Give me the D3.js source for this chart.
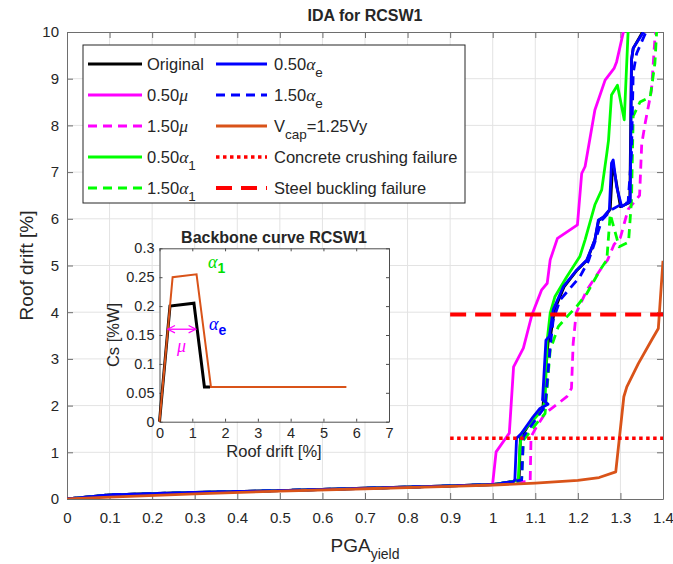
<!DOCTYPE html>
<html>
<head>
<meta charset="utf-8">
<script src="https://cdn.jsdelivr.net/npm/d3@7"></script>
<style>
  body { margin: 0; background: #fff; }
  text { font-family: "Liberation Sans", Arial, sans-serif; fill: #262626; }
</style>
</head>
<body>
<svg id="chart" width="673" height="564"></svg>
<script>
// tick values / labels
const xTickVals = [0, 0.1, 0.2, 0.3, 0.4, 0.5, 0.6, 0.7, 0.8, 0.9, 1, 1.1, 1.2, 1.3, 1.4];
const xTickLabels = ["0", "0.1", "0.2", "0.3", "0.4", "0.5", "0.6", "0.7", "0.8", "0.9", "1", "1.1", "1.2", "1.3", "1.4"];
const yTickVals = [0, 1, 2, 3, 4, 5, 6, 7, 8, 9, 10];
const insetXTicks = [0, 1, 2, 3, 4, 5, 6, 7];
const insetXLabels = ["0", "1", "2", "3", "4", "5", "6", "7"];
const insetYTicks = [0, 0.05, 0.1, 0.15, 0.2, 0.25, 0.3];
const insetYLabels = ["0", "0.05", "0.1", "0.15", "0.2", "0.25", "0.3"];

// common low-intensity part of the IDA curves [PGA, drift]
const baseRun = [[0, 0], [0.1, 0.09], [0.3, 0.14], [0.5, 0.18], [0.7, 0.23], [0.9, 0.28], [1.0, 0.31]];

const original = baseRun.concat([[1.045, 0.37], [1.062, 0.42], [1.065, 1.3], [1.095, 1.74], [1.118, 1.98], [1.13, 3.35],
  [1.136, 3.5], [1.145, 4.05], [1.168, 4.55], [1.198, 4.9], [1.222, 5.12], [1.24, 5.55], [1.249, 5.97], [1.262, 6.04],
  [1.276, 6.2], [1.282, 7.2], [1.29, 6.8], [1.3, 6.26], [1.322, 6.35], [1.326, 9.4], [1.33, 9.65], [1.352, 10]]);

const mu050 = baseRun.concat([[1.0, 0.34], [1.008, 1.01], [1.039, 1.41], [1.049, 2.83], [1.072, 3.23], [1.092, 3.94],
  [1.115, 4.48], [1.128, 4.62], [1.135, 5.12], [1.152, 5.58], [1.199, 5.87], [1.209, 6.97], [1.217, 7.12], [1.24, 8.33],
  [1.264, 8.97], [1.285, 9.22], [1.291, 9.36], [1.307, 10]]);

const mu150 = baseRun.concat([[1.04, 0.35], [1.088, 0.38], [1.09, 1.33], [1.103, 1.55], [1.123, 1.83], [1.174, 2.19],
  [1.185, 2.37], [1.189, 3.33], [1.196, 3.98], [1.221, 4.47], [1.252, 4.9], [1.27, 5.12], [1.285, 5.45], [1.3, 5.6],
  [1.318, 6.2], [1.345, 6.5], [1.35, 7.6], [1.358, 8.04], [1.373, 8.76], [1.381, 9.86], [1.383, 10]]);

const a1050 = baseRun.concat([[1.05, 0.38], [1.06, 0.41], [1.064, 1.12], [1.068, 1.41], [1.095, 1.69], [1.117, 1.91],
  [1.123, 2.12], [1.128, 3.4], [1.135, 3.98], [1.146, 4.33], [1.174, 4.76], [1.205, 5.2], [1.217, 5.55], [1.24, 6.3],
  [1.256, 6.62], [1.268, 7.4], [1.272, 7.68], [1.279, 8.65], [1.293, 8.86], [1.309, 8.12], [1.318, 10]]);

const a1150 = baseRun.concat([[1.06, 0.38], [1.068, 0.42], [1.072, 1.26], [1.103, 1.62], [1.123, 1.83], [1.135, 3.19],
  [1.154, 3.69], [1.174, 3.9], [1.197, 4.12], [1.221, 4.4], [1.252, 4.9], [1.268, 5.12], [1.276, 6.1], [1.297, 5.4],
  [1.319, 5.5], [1.326, 6.4], [1.33, 8.2], [1.346, 8.5], [1.37, 8.61], [1.381, 9.33], [1.385, 10]]);

const ae050 = baseRun.concat([[1.048, 0.37], [1.052, 0.41], [1.056, 1.3], [1.068, 1.41], [1.095, 1.76], [1.111, 1.94],
  [1.13, 2.03], [1.117, 2.12], [1.125, 3.4], [1.133, 3.48], [1.142, 4.05], [1.166, 4.55], [1.197, 4.9], [1.221, 5.12],
  [1.24, 5.55], [1.248, 5.97], [1.26, 6.04], [1.274, 6.19], [1.279, 7.19], [1.283, 7.26], [1.291, 6.69], [1.303, 6.26],
  [1.323, 6.37], [1.326, 9.4], [1.33, 9.65], [1.354, 10]]);

const ae150 = baseRun.concat([[1.05, 0.38], [1.068, 0.41], [1.072, 1.33], [1.1, 1.69], [1.123, 1.98], [1.135, 3.26],
  [1.142, 3.83], [1.158, 4.26], [1.205, 4.76], [1.225, 5.1], [1.24, 5.5], [1.256, 5.97], [1.28, 6.2], [1.3, 6.3],
  [1.318, 6.35], [1.326, 7.4], [1.33, 9.12], [1.338, 9.54], [1.36, 10]]);

const vcap = [[0, 0], [0.1, 0.04], [0.3, 0.11], [0.5, 0.17], [0.7, 0.22], [0.9, 0.27], [1.0, 0.3], [1.1, 0.34],
  [1.2, 0.4], [1.25, 0.46], [1.289, 0.58], [1.308, 2.19], [1.315, 2.4], [1.342, 2.9], [1.373, 3.4], [1.389, 3.65], [1.4, 5.1]];

const crushing = [[0.9, 1.3], [1.4, 1.3]];
const buckling = [[0.9, 3.95], [1.4, 3.95]];

// backbone curves [drift %, Cs]
const backboneOrig = [[0, 0], [0.32, 0.2], [1.05, 0.205], [1.37, 0.06], [1.54, 0.06]];
const backboneCap = [[0, 0], [0.4, 0.25], [1.13, 0.255], [1.57, 0.06], [5.7, 0.06]];
const muArrow = [0.25, 1.11, 0.16];

const series = [
  { name: "Original", data: original, color: "#000000", dash: null },
  { name: "0.50mu", data: mu050, color: "#ff00ff", dash: null },
  { name: "1.50mu", data: mu150, color: "#ff00ff", dash: "9,6" },
  { name: "0.50a1", data: a1050, color: "#00ff00", dash: null },
  { name: "1.50a1", data: a1150, color: "#00ff00", dash: "9,6" },
  { name: "0.50ae", data: ae050, color: "#0000ff", dash: null },
  { name: "1.50ae", data: ae150, color: "#0000ff", dash: "9,6" },
  { name: "Vcap", data: vcap, color: "#D95319", dash: null }
];

const svg = d3.select("#chart");
const pL = 67, pR = 663, pT = 32, pB = 499;

const x = d3.scaleLinear().domain([0, 1.4]).range([pL, pR]);
const y = d3.scaleLinear().domain([0, 10]).range([pB, pT]);

// grid
svg.append("g").selectAll("line").data(xTickVals.slice(1, -1)).enter().append("line")
  .attr("x1", d => x(d)).attr("x2", d => x(d)).attr("y1", pT).attr("y2", pB)
  .attr("stroke", "#e3e3e3").attr("stroke-width", 1);
svg.append("g").selectAll("line").data(yTickVals.slice(1, -1)).enter().append("line")
  .attr("y1", d => y(d)).attr("y2", d => y(d)).attr("x1", pL).attr("x2", pR)
  .attr("stroke", "#e3e3e3").attr("stroke-width", 1);

// axes, ticks inside like matlab
const xAxis = svg.append("g").attr("transform", `translate(0,${pB})`)
  .call(d3.axisBottom(x).tickValues(xTickVals).tickFormat((d, i) => xTickLabels[i]).tickSizeInner(-6).tickSizeOuter(0).tickPadding(13));
const xTop = svg.append("g").attr("transform", `translate(0,${pT})`)
  .call(d3.axisTop(x).tickValues(xTickVals).tickFormat("").tickSizeInner(-6).tickSizeOuter(0));
const yAxis = svg.append("g").attr("transform", `translate(${pL},0)`)
  .call(d3.axisLeft(y).tickValues(yTickVals).tickSizeInner(-6).tickSizeOuter(0).tickPadding(8));
const yRight = svg.append("g").attr("transform", `translate(${pR},0)`)
  .call(d3.axisRight(y).tickValues(yTickVals).tickFormat("").tickSizeInner(-6).tickSizeOuter(0));
[xAxis, xTop, yAxis, yRight].forEach(g => {
  g.select(".domain").attr("stroke", "#6e6e6e");
  g.selectAll(".tick line").attr("stroke", "#6e6e6e");
  g.selectAll("text").attr("font-size", "15px").attr("fill", "#262626")
    .style("font-family", '"Liberation Sans", Arial, sans-serif');
});

// clip
svg.append("clipPath").attr("id", "plotclip").append("rect")
  .attr("x", pL).attr("y", pT).attr("width", pR - pL).attr("height", pB - pT);

const line = d3.line().x(d => x(d[0])).y(d => y(d[1]));
const curves = svg.append("g").attr("clip-path", "url(#plotclip)");

series.forEach(s => {
  curves.append("path")
    .attr("d", line(s.data))
    .attr("fill", "none")
    .attr("stroke", s.color)
    .attr("stroke-width", 2.8)
    .attr("stroke-linejoin", "round")
    .attr("stroke-dasharray", s.dash);
});

curves.append("path").attr("d", line(crushing)).attr("fill", "none")
  .attr("stroke", "#ff0000").attr("stroke-width", 3.5).attr("stroke-dasharray", "3.5,3.5");
curves.append("path").attr("d", line(buckling)).attr("fill", "none")
  .attr("stroke", "#ff0000").attr("stroke-width", 4).attr("stroke-dasharray", "16,9");

// titles and labels
svg.append("text").attr("x", (pL + pR) / 2).attr("y", 21).attr("text-anchor", "middle")
  .attr("font-size", "16px").attr("font-weight", "bold").text("IDA for RCSW1");

const xl = svg.append("text").attr("x", (pL + pR) / 2).attr("y", 552).attr("text-anchor", "middle")
  .attr("font-size", "19px");
xl.append("tspan").text("PGA");
xl.append("tspan").attr("dy", 7).attr("font-size", "14px").text("yield");

svg.append("text").attr("transform", `translate(33,${(pT + pB) / 2}) rotate(-90)`)
  .attr("text-anchor", "middle").attr("font-size", "19px").text("Roof drift [%]");

// rich text helper for legend (greek + subscripts)
function rich(sel, parts, size) {
  parts.forEach(p => {
    const t = sel.append("tspan").text(p.t);
    if (p.g) t.style("font-family", '"Liberation Serif", "DejaVu Serif", serif').attr("font-style", "italic").attr("font-size", (size + 1) + "px");
    if (p.sub) t.attr("dy", 7).attr("font-size", (size - 3) + "px");
    if (p.up) t.attr("dy", -7);
  });
}

// legend
const lg = svg.append("g");
lg.append("rect").attr("x", 83).attr("y", 45).attr("width", 382).attr("height", 158)
  .attr("fill", "#fff").attr("stroke", "#262626").attr("stroke-width", 1);

const legendItems = [
  { col: 0, row: 0, color: "#000000", dash: null, w: 2.8, parts: [{ t: "Original" }] },
  { col: 0, row: 1, color: "#ff00ff", dash: null, w: 2.8, parts: [{ t: "0.50" }, { t: "\u03bc", g: true }] },
  { col: 0, row: 2, color: "#ff00ff", dash: "9,6", w: 2.8, parts: [{ t: "1.50" }, { t: "\u03bc", g: true }] },
  { col: 0, row: 3, color: "#00ff00", dash: null, w: 2.8, parts: [{ t: "0.50" }, { t: "\u03b1", g: true }, { t: "1", sub: true }] },
  { col: 0, row: 4, color: "#00ff00", dash: "9,6", w: 2.8, parts: [{ t: "1.50" }, { t: "\u03b1", g: true }, { t: "1", sub: true }] },
  { col: 1, row: 0, color: "#0000ff", dash: null, w: 2.8, parts: [{ t: "0.50" }, { t: "\u03b1", g: true }, { t: "e", sub: true }] },
  { col: 1, row: 1, color: "#0000ff", dash: "9,6", w: 2.8, parts: [{ t: "1.50" }, { t: "\u03b1", g: true }, { t: "e", sub: true }] },
  { col: 1, row: 2, color: "#D95319", dash: null, w: 2.8, parts: [{ t: "V" }, { t: "cap", sub: true }, { t: "=1.25Vy", up: true }] },
  { col: 1, row: 3, color: "#ff0000", dash: "3.5,3.5", w: 3.5, parts: [{ t: "Concrete crushing failure" }] },
  { col: 1, row: 4, color: "#ff0000", dash: "16,9", w: 4, parts: [{ t: "Steel buckling failure" }] }
];
const colLine = [[88, 142], [216, 267]];
const colText = [147, 274];
const rowY = [64, 95, 126, 157, 188];

legendItems.forEach(it => {
  const yy = rowY[it.row];
  lg.append("line").attr("x1", colLine[it.col][0]).attr("x2", colLine[it.col][1])
    .attr("y1", yy).attr("y2", yy).attr("stroke", it.color).attr("stroke-width", it.w)
    .attr("stroke-dasharray", it.dash);
  const t = lg.append("text").attr("x", colText[it.col]).attr("y", yy + 6).attr("font-size", "16.5px");
  rich(t, it.parts, 16.5);
});

// inset: backbone curve
const xi = d3.scaleLinear().domain([0, 7]).range([159.5, 389]);
const yi = d3.scaleLinear().domain([0, 0.3]).range([421.7, 248.3]);
const inset = svg.append("g");
inset.append("rect").attr("x", 159.5).attr("y", 248.3).attr("width", 389 - 159.5).attr("height", 421.7 - 248.3)
  .attr("fill", "#fff");

const ixAxis = inset.append("g").attr("transform", "translate(0,421.7)")
  .call(d3.axisBottom(xi).tickValues(insetXTicks).tickFormat((d, i) => insetXLabels[i]).tickSizeInner(-3).tickSizeOuter(0).tickPadding(6));
const ixTop = inset.append("g").attr("transform", "translate(0,248.3)")
  .call(d3.axisTop(xi).tickValues(insetXTicks).tickFormat("").tickSizeInner(-3).tickSizeOuter(0));
const iyAxis = inset.append("g").attr("transform", "translate(159.5,0)")
  .call(d3.axisLeft(yi).tickValues(insetYTicks).tickFormat((d, i) => insetYLabels[i]).tickSizeInner(-3).tickSizeOuter(0).tickPadding(5));
const iyRight = inset.append("g").attr("transform", "translate(389,0)")
  .call(d3.axisRight(yi).tickValues(insetYTicks).tickFormat("").tickSizeInner(-3).tickSizeOuter(0));
[ixAxis, ixTop, iyAxis, iyRight].forEach(g => {
  g.select(".domain").attr("stroke", "#4d4d4d");
  g.selectAll(".tick line").attr("stroke", "#4d4d4d");
  g.selectAll("text").attr("font-size", "14.5px").attr("fill", "#262626")
    .style("font-family", '"Liberation Sans", Arial, sans-serif');
});

const iline = d3.line().x(d => xi(d[0])).y(d => yi(d[1]));
inset.append("path").attr("d", iline(backboneOrig)).attr("fill", "none")
  .attr("stroke", "#000").attr("stroke-width", 3);
inset.append("path").attr("d", iline(backboneCap)).attr("fill", "none")
  .attr("stroke", "#D95319").attr("stroke-width", 2);

// ductility arrow
inset.append("defs").html(
  '<marker id="ah" viewBox="0 0 10 10" refX="9" refY="5" markerWidth="7" markerHeight="7" orient="auto-start-reverse">' +
  '<path d="M1,1 L9,5 L1,9" fill="none" stroke="#ff00ff" stroke-width="1.3"/></marker>');
inset.append("line").attr("x1", xi(muArrow[0])).attr("x2", xi(muArrow[1]))
  .attr("y1", yi(muArrow[2])).attr("y2", yi(muArrow[2]))
  .attr("stroke", "#ff00ff").attr("stroke-width", 1.3)
  .attr("marker-start", "url(#ah)").attr("marker-end", "url(#ah)");

const greekFont = '"Liberation Serif", "DejaVu Serif", serif';
inset.append("text").attr("x", 177).attr("y", 352).attr("font-size", "18px")
  .style("fill", "#ff00ff").style("font-family", greekFont).attr("font-style", "italic").text("\u03bc");
const a1 = inset.append("text").attr("x", 208).attr("y", 268).attr("font-size", "18px").style("fill", "#00e000");
a1.append("tspan").style("font-family", greekFont).attr("font-style", "italic").text("\u03b1");
a1.append("tspan").attr("dy", 5).attr("font-size", "14px").attr("font-weight", "bold").style("fill", "#00e000").text("1");
const ae = inset.append("text").attr("x", 209).attr("y", 330).attr("font-size", "18px").style("fill", "#0000ff");
ae.append("tspan").style("font-family", greekFont).attr("font-style", "italic").text("\u03b1");
ae.append("tspan").attr("dy", 5).attr("font-size", "14px").attr("font-weight", "bold").style("fill", "#0000ff").text("e");

inset.append("text").attr("x", 274).attr("y", 243).attr("text-anchor", "middle")
  .attr("font-size", "16px").attr("font-weight", "bold").text("Backbone curve RCSW1");
inset.append("text").attr("x", 274).attr("y", 457).attr("text-anchor", "middle")
  .attr("font-size", "16.5px").text("Roof drift [%]");
inset.append("text").attr("transform", "translate(119,335) rotate(-90)").attr("text-anchor", "middle")
  .attr("font-size", "16.5px").text("Cs [%W]");
</script>
</body>
</html>
